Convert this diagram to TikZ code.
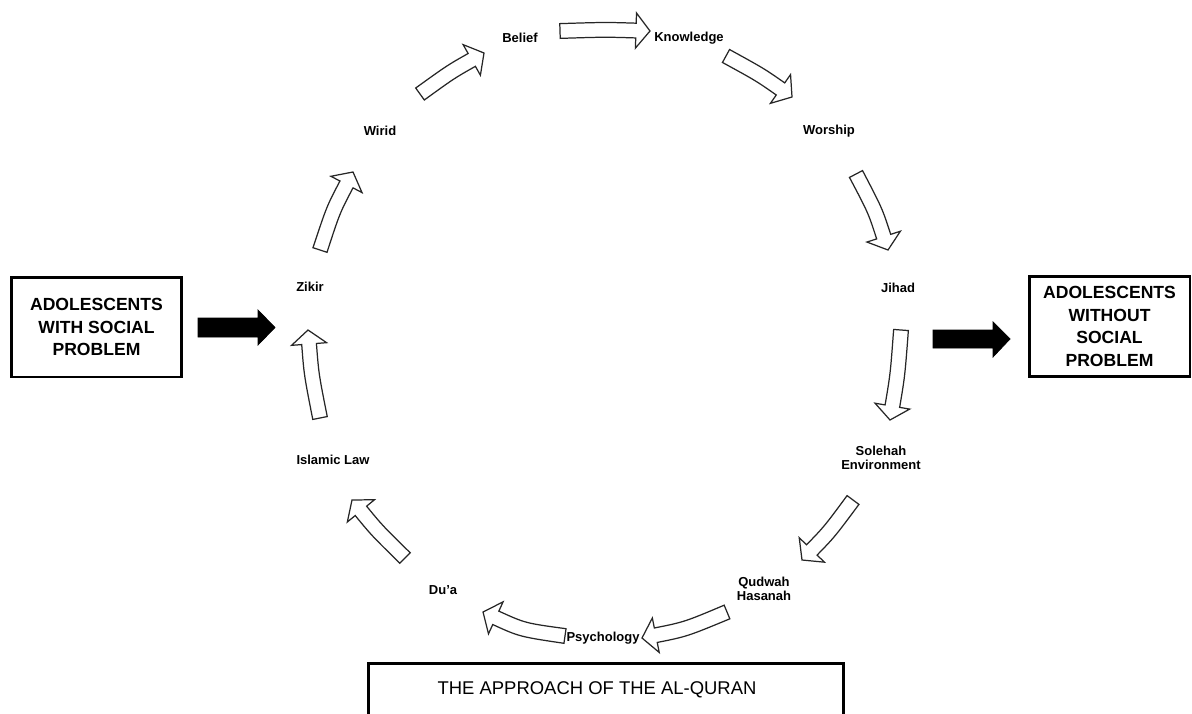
\documentclass[tikz,border=0pt]{standalone}
\usepackage{fontspec}
\setmainfont{Liberation Sans}
\usetikzlibrary{calc}

% hollow curved arrow: tail, tip, bend
\newcommand{\cyclearrow}[3]{%
  \coordinate (s) at (#1);
  \coordinate (t) at (#2);
  \coordinate (m) at ($(s)!0.5!(t)$);
  \coordinate (c) at ($(m)!#3!90:(t)$);
  \coordinate (hb) at ($(t)!8pt!(c)$);
  \draw[hollow] ($(s)!4.2pt!90:(c)$) .. controls ($(c)!4.2pt!90:(hb)$) .. ($(hb)!4.2pt!-90:(c)$)
    -- ($(hb)!10pt!-90:(c)$) -- (t) -- ($(hb)!10pt!90:(c)$) -- ($(hb)!4.2pt!90:(c)$)
    .. controls ($(c)!4.2pt!-90:(hb)$) .. ($(s)!4.2pt!-90:(c)$) -- cycle;
}

\begin{document}
\begin{tikzpicture}[x=0.02cm, y=-0.02cm, line join=miter,
  lbl/.style={font=\fontsize{7.4}{7.6}\selectfont\bfseries, align=center, inner sep=1pt},
  sidebox/.style={draw, line width=1.7pt, minimum height=2cm, align=center, inner sep=2pt,
    font=\fontsize{10}{13}\selectfont\bfseries},
  hollow/.style={draw=black!85, line width=0.7pt, fill=white},
  blackarrow/.style={fill=black}]

\useasboundingbox (0,0) rectangle (1192,713);

% Cycle labels
\node[lbl] (belief) at (520,38) {Belief};
\node[lbl] (knowledge) at (689,38) {Knowledge};
\node[lbl] (worship) at (829,131) {Worship};
\node[lbl] (jihad) at (898,288) {Jihad};
\node[lbl] (solehah) at (881,458) {Solehah\\Environment};
\node[lbl] (qudwah) at (764,589) {Qudwah\\Hasanah};
\node[lbl] (psychology) at (603,638) {Psychology};
\node[lbl] (dua) at (443,590) {Du’a};
\node[lbl] (islamiclaw) at (333,460) {Islamic Law};
\node[lbl] (zikir) at (310,287) {Zikir};
\node[lbl] (wirid) at (380,131) {Wirid};

% Cycle arrows
\cyclearrow{560,31}{650,31}{0.8pt}
\cyclearrow{726,56}{792,97}{1.2pt}
\cyclearrow{856,174}{888,250}{2pt}
\cyclearrow{901,330}{890,420}{1.2pt}
\cyclearrow{853,500}{802,560}{1.5pt}
\cyclearrow{727,612}{642,638}{2.5pt}
\cyclearrow{565,636}{483,612}{3.5pt}
\cyclearrow{405,558}{352,500}{1.2pt}
\cyclearrow{320,418}{308,330}{1.5pt}
\cyclearrow{320,250}{353,172}{2pt}
\cyclearrow{420,94}{484,53}{1.2pt}

% Side boxes
\node[sidebox, minimum width=3.42cm] (withbox) at (96.5,327) {ADOLESCENTS\\WITH SOCIAL\\PROBLEM};
\node[sidebox, minimum width=3.22cm] (withoutbox) at (1109.5,326.5) {ADOLESCENTS\\WITHOUT\\SOCIAL\\PROBLEM};

% Black arrows
\draw[blackarrow] (198,318) -- (258,318) -- (258,310) -- (275,327.5) -- (258,345) -- (258,337) -- (198,337) -- cycle;
\draw[blackarrow] (933,330) -- (993,330) -- (993,322) -- (1010,339) -- (993,357) -- (993,348) -- (933,348) -- cycle;

% Bottom box
\node[font=\fontsize{10.5}{12}\selectfont] (approach) at (597,690) {THE APPROACH OF THE AL-QURAN};
\draw[line width=1.7pt] (368,720) -- (368,663) -- (843,663) -- (843,720);
\end{tikzpicture}
\end{document}
